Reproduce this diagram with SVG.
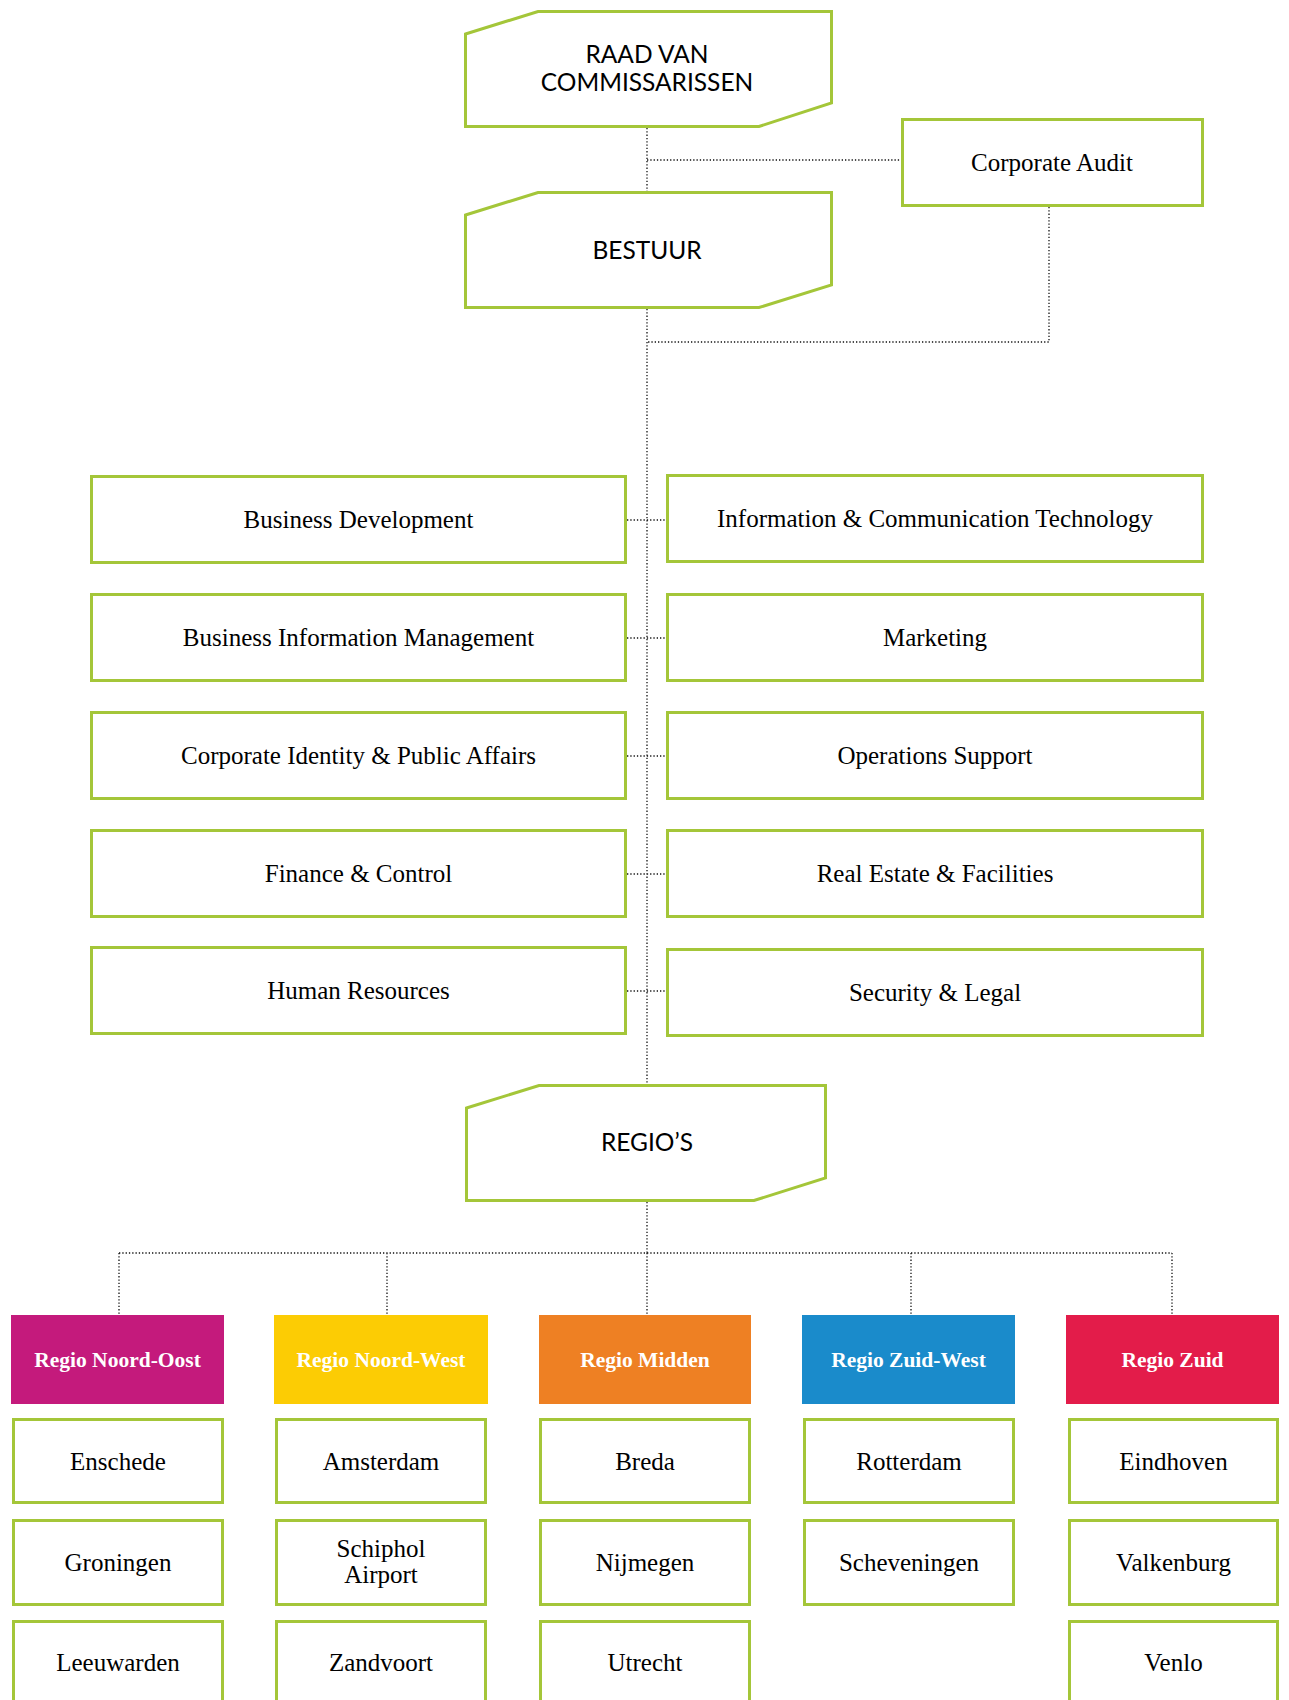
<svg xmlns="http://www.w3.org/2000/svg" width="1289" height="1700" viewBox="0 0 1289 1700">
<style>
.box{fill:#fff;stroke:#a4c639;stroke-width:3}
.con{fill:none;stroke:#111;stroke-width:1.3;stroke-dasharray:1.3 2}
.t{font-family:"Liberation Serif","DejaVu Serif",serif;font-size:25px;fill:#000;text-anchor:middle}
.h{font-family:Lato,"Noto Sans","DejaVu Sans",sans-serif;font-weight:400;font-size:24.5px;fill:#000;text-anchor:middle}
.r{font-family:"Liberation Serif","DejaVu Serif",serif;font-weight:bold;font-size:21.5px;fill:#fff;text-anchor:middle}
</style>
<rect width="1289" height="1700" fill="#fff"/>
<g id="connectors">
<path class="con" d="M647 128V191M647 160H901M647 309V1084M1049 207V342H647M627 520H666M627 638H666M627 756H666M627 874H666M627 991H666M647 1202V1253M119 1253H1172M119 1253V1315M387 1253V1315M647 1253V1315M911 1253V1315M1172 1253V1315"/>
</g>
<g id="raad">
<polygon class="box" points="465.5,34 538,11.5 831.5,11.5 831.5,103 759,126.5 465.5,126.5"/>
<text class="h" x="647" y="63">RAAD VAN</text>
<text class="h" x="647" y="91">COMMISSARISSEN</text>
</g>
<g id="bestuur">
<polygon class="box" points="465.5,215 538,192.5 831.5,192.5 831.5,285 759,307.5 465.5,307.5"/>
<text class="h" x="647" y="259">BESTUUR</text>
</g>
<g id="corporate-audit">
<rect class="box" x="902.5" y="119.5" width="300" height="86"/>
<text class="t" x="1052" y="171">Corporate Audit</text>
</g>
<g id="business-development"><rect class="box" x="91.5" y="476.5" width="534" height="86"/><text class="t" x="358.5" y="528">Business Development</text></g>
<g id="business-information-management"><rect class="box" x="91.5" y="594.5" width="534" height="86"/><text class="t" x="358.5" y="646">Business Information Management</text></g>
<g id="corporate-identity"><rect class="box" x="91.5" y="712.5" width="534" height="86"/><text class="t" x="358.5" y="764">Corporate Identity &amp; Public Affairs</text></g>
<g id="finance-control"><rect class="box" x="91.5" y="830.5" width="534" height="86"/><text class="t" x="358.5" y="882">Finance &amp; Control</text></g>
<g id="human-resources"><rect class="box" x="91.5" y="947.5" width="534" height="86"/><text class="t" x="358.5" y="999">Human Resources</text></g>
<g id="ict"><rect class="box" x="667.5" y="475.5" width="535" height="86"/><text class="t" x="935" y="527">Information &amp; Communication Technology</text></g>
<g id="marketing"><rect class="box" x="667.5" y="594.5" width="535" height="86"/><text class="t" x="935" y="646">Marketing</text></g>
<g id="operations-support"><rect class="box" x="667.5" y="712.5" width="535" height="86"/><text class="t" x="935" y="764">Operations Support</text></g>
<g id="real-estate"><rect class="box" x="667.5" y="830.5" width="535" height="86"/><text class="t" x="935" y="882">Real Estate &amp; Facilities</text></g>
<g id="security-legal"><rect class="box" x="667.5" y="949.5" width="535" height="86"/><text class="t" x="935" y="1001">Security &amp; Legal</text></g>
<g id="regios">
<polygon class="box" points="466.5,1108 539,1085.5 825.5,1085.5 825.5,1178 754,1200.5 466.5,1200.5"/>
<text class="h" x="647" y="1151">REGIO’S</text>
</g>
<g id="regio-noord-oost"><rect x="11" y="1315" width="213" height="89" fill="#c41a7c"/><text class="r" x="117.5" y="1367">Regio Noord-Oost</text></g>
<g id="regio-noord-west"><rect x="274" y="1315" width="214" height="89" fill="#fccc04"/><text class="r" x="381" y="1367">Regio Noord-West</text></g>
<g id="regio-midden"><rect x="539" y="1315" width="212" height="89" fill="#ee8023"/><text class="r" x="645" y="1367">Regio Midden</text></g>
<g id="regio-zuid-west"><rect x="802" y="1315" width="213" height="89" fill="#1a8bcb"/><text class="r" x="908.5" y="1367">Regio Zuid-West</text></g>
<g id="regio-zuid"><rect x="1066" y="1315" width="213" height="89" fill="#e31c4a"/><text class="r" x="1172.5" y="1367">Regio Zuid</text></g>
<g id="enschede"><rect class="box" x="13.5" y="1419.5" width="209" height="83"/><text class="t" x="118" y="1470">Enschede</text></g>
<g id="groningen"><rect class="box" x="13.5" y="1520.5" width="209" height="84"/><text class="t" x="118" y="1571">Groningen</text></g>
<g id="leeuwarden"><rect class="box" x="13.5" y="1621.5" width="209" height="84"/><text class="t" x="118" y="1671">Leeuwarden</text></g>
<g id="amsterdam"><rect class="box" x="276.5" y="1419.5" width="209" height="83"/><text class="t" x="381" y="1470">Amsterdam</text></g>
<g id="schiphol"><rect class="box" x="276.5" y="1520.5" width="209" height="84"/><text class="t" x="381" y="1557">Schiphol</text><text class="t" x="381" y="1583">Airport</text></g>
<g id="zandvoort"><rect class="box" x="276.5" y="1621.5" width="209" height="84"/><text class="t" x="381" y="1671">Zandvoort</text></g>
<g id="breda"><rect class="box" x="540.5" y="1419.5" width="209" height="83"/><text class="t" x="645" y="1470">Breda</text></g>
<g id="nijmegen"><rect class="box" x="540.5" y="1520.5" width="209" height="84"/><text class="t" x="645" y="1571">Nijmegen</text></g>
<g id="utrecht"><rect class="box" x="540.5" y="1621.5" width="209" height="84"/><text class="t" x="645" y="1671">Utrecht</text></g>
<g id="rotterdam"><rect class="box" x="804.5" y="1419.5" width="209" height="83"/><text class="t" x="909" y="1470">Rotterdam</text></g>
<g id="scheveningen"><rect class="box" x="804.5" y="1520.5" width="209" height="84"/><text class="t" x="909" y="1571">Scheveningen</text></g>
<g id="eindhoven"><rect class="box" x="1069.5" y="1419.5" width="208" height="83"/><text class="t" x="1173.5" y="1470">Eindhoven</text></g>
<g id="valkenburg"><rect class="box" x="1069.5" y="1520.5" width="208" height="84"/><text class="t" x="1173.5" y="1571">Valkenburg</text></g>
<g id="venlo"><rect class="box" x="1069.5" y="1621.5" width="208" height="84"/><text class="t" x="1173.5" y="1671">Venlo</text></g>
</svg>
